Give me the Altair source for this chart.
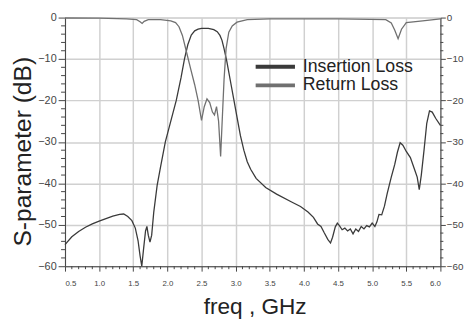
import altair as alt
import pandas as pd

# Insertion loss (S21)
il_freq = [0.5, 0.6, 0.7, 0.8, 0.9, 1.0, 1.1, 1.2, 1.3, 1.36, 1.42, 1.48, 1.53, 1.57, 1.6, 1.625,
           1.65, 1.68, 1.70, 1.72, 1.745, 1.77, 1.8, 1.85, 1.9, 1.97, 2.05, 2.13, 2.2, 2.25, 2.3,
           2.35, 2.4, 2.45, 2.5, 2.6, 2.68, 2.73, 2.77, 2.8, 2.83, 2.87, 2.92, 2.97, 3.02, 3.07,
           3.12, 3.17, 3.22, 3.3, 3.44, 3.6, 3.82, 3.95, 4.06, 4.14, 4.2, 4.25, 4.3, 4.35, 4.39,
           4.42, 4.46, 4.49, 4.52, 4.56, 4.6, 4.64, 4.68, 4.72, 4.76, 4.8, 4.84, 4.88, 4.92, 4.96,
           5.0, 5.04, 5.07, 5.1, 5.14, 5.18, 5.22, 5.28, 5.33, 5.37, 5.41, 5.45, 5.5, 5.56, 5.62,
           5.66, 5.69, 5.72, 5.76, 5.8, 5.84, 5.88, 5.93, 6.0]
il_db = [-54.8, -52.9, -51.6, -50.6, -49.8, -49.1, -48.5, -47.9, -47.5, -47.4, -48.0, -49.0, -50.8,
         -53.8, -57.5, -60.0, -56.0, -51.5, -50.4, -52.5, -54.2, -52.5, -47.0, -40.5, -36.0, -30.0,
         -25.0, -20.0, -14.5, -10.0, -6.5, -4.2, -3.2, -2.8, -2.6, -2.6, -2.9, -3.4, -4.3, -5.5,
         -7.5, -10.5, -15.0, -19.5, -24.0, -28.5, -32.0, -34.8, -36.6, -38.8, -41.0, -42.6, -44.5,
         -45.6, -46.9, -48.2, -49.8, -50.4, -52.0, -53.5, -54.4, -53.0, -50.5, -49.6, -50.2, -51.2,
         -50.8, -51.5, -51.0, -52.2, -51.0, -51.6, -50.4, -51.0, -50.2, -50.5, -49.6, -50.4, -49.3,
         -47.5, -47.6, -45.5, -42.5, -38.5, -35.5, -32.5, -30.2, -30.8, -32.3, -33.8, -36.6, -38.5,
         -41.5, -38.0, -32.0, -25.5, -22.5, -22.8, -24.3, -26.0]

# Return loss (S11)
rl_freq = [0.5, 1.0, 1.4, 1.55, 1.6, 1.63, 1.66, 1.72, 1.9, 2.05, 2.12, 2.17, 2.22, 2.28, 2.34, 2.4,
           2.45, 2.5, 2.54, 2.58, 2.62, 2.66, 2.69, 2.72, 2.75, 2.78, 2.8, 2.83, 2.86, 2.9, 2.95,
           3.02, 3.17, 3.5, 4.5, 5.2, 5.28, 5.33, 5.38, 5.43, 5.5, 5.74, 6.0]
rl_db = [-0.1, -0.15, -0.3, -0.5, -1.0, -1.4, -0.9, -0.5, -0.5, -0.8, -1.2, -2.2, -4.3, -8.3, -12.3,
         -16.2, -20.0, -24.8, -21.5, -19.6, -20.5, -22.8, -23.5, -21.5, -25.0, -33.5, -26.0, -15.0,
         -7.5, -3.5, -2.0, -1.1, -0.5, -0.3, -0.3, -0.5, -1.3, -3.0, -5.1, -2.8, -1.2, -0.8, -0.3]

series_names = ["Insertion Loss", "Return Loss"]
series_colors = ["#3a3a3a", "#707070"]

x_major = [0.5, 1.0, 1.5, 2.0, 2.5, 3.0, 3.5, 4.0, 4.5, 5.0, 5.5, 6.0]
x_minor = [round(0.5 + 0.1 * i, 1) for i in range(56) if i % 5 != 0]
y_major = [0, -10, -20, -30, -40, -50, -60]
y_minor = [v for v in range(-60, 1, 2) if v % 10 != 0]

W, H = 382, 253
FONT = "Liberation Sans"

df = pd.concat([
    pd.DataFrame({"freq": il_freq, "db": il_db, "series": series_names[0]}),
    pd.DataFrame({"freq": rl_freq, "db": rl_db, "series": series_names[1]}),
])

xscale = alt.Scale(domain=[0.5, 6.0], nice=False, zero=False)
yscale = alt.Scale(domain=[-60, 0], nice=False, zero=False)

lines = alt.Chart(df).mark_line(strokeWidth=1.3).encode(
    x=alt.X("freq:Q", scale=xscale,
            axis=alt.Axis(values=x_major, format=".1f", title="freq , GHz",
                          labelFontSize=8, labelColor="#444", labelPadding=9,
                          tickSize=5, tickColor="#444", domainColor="#444",
                          titleFontSize=23, titleFontWeight="normal", titleColor="#222",
                          titleBaseline="alphabetic", titleX=193, titleY=48,
                          titleFont=FONT, labelFont=FONT,
                          grid=True, gridColor="#d0d0d0", gridWidth=1.5)),
    y=alt.Y("db:Q", scale=yscale,
            axis=alt.Axis(values=y_major, title="S-parameter (dB)", orient="left",
                          labelFontSize=11, labelColor="#444", labelPadding=2,
                          tickSize=7, tickColor="#444", domainColor="#444",
                          titleFontSize=25, titleFontWeight="normal", titleColor="#222",
                          titleBaseline="alphabetic", titleX=-35, titleY=136,
                          titleFont=FONT, labelFont=FONT,
                          grid=True, gridColor="#d0d0d0", gridWidth=1.5)),
    color=alt.Color("series:N", scale=alt.Scale(domain=series_names, range=series_colors),
                    legend=alt.Legend(title=None, orient="none", legendX=192, legendY=41,
                                      symbolType="stroke", symbolStrokeWidth=4,
                                      symbolSize=1600, clipHeight=18, rowPadding=1,
                                      labelFontSize=18, labelFont=FONT, labelColor="#222",
                                      labelOffset=6, padding=0)),
)

ymin_df = pd.DataFrame({"v": y_minor})
ymaj_df = pd.DataFrame({"v": y_major})
xmin_df = pd.DataFrame({"v": x_minor})

right_axis = alt.Chart(ymaj_df).mark_rule(opacity=0).encode(
    y=alt.Y("v:Q", scale=yscale,
            axis=alt.Axis(values=y_major, orient="right", title=None, grid=False,
                          labelFontSize=10, labelColor="#444", labelPadding=1,
                          tickSize=5, tickColor="#444", domainColor="#444", labelFont=FONT)),
    x=alt.value(0), x2=alt.value(1),
)

yminor_left = alt.Chart(ymin_df).mark_rule(color="#444", strokeWidth=1).encode(
    y=alt.Y("v:Q", scale=yscale, axis=None), x=alt.value(-4), x2=alt.value(0))
yminor_right = alt.Chart(ymin_df).mark_rule(color="#444", strokeWidth=1).encode(
    y=alt.Y("v:Q", scale=yscale, axis=None), x=alt.value(W), x2=alt.value(W + 3))
xminor = alt.Chart(xmin_df).mark_rule(color="#444", strokeWidth=1).encode(
    x=alt.X("v:Q", scale=xscale, axis=None), y=alt.value(H), y2=alt.value(H + 3))

chart = alt.layer(lines, right_axis, yminor_left, yminor_right, xminor).resolve_axis(
    y="independent", x="independent"
).properties(
    width=W, height=H,
    autosize=alt.AutoSizeParams(type="none"),
    padding={"left": 58, "top": 7, "right": 24, "bottom": 54},
).configure_view(stroke="#444", strokeWidth=1.8).configure(background="white")

chart.save("out.html", embed_options={"renderer": "svg", "actions": False})
